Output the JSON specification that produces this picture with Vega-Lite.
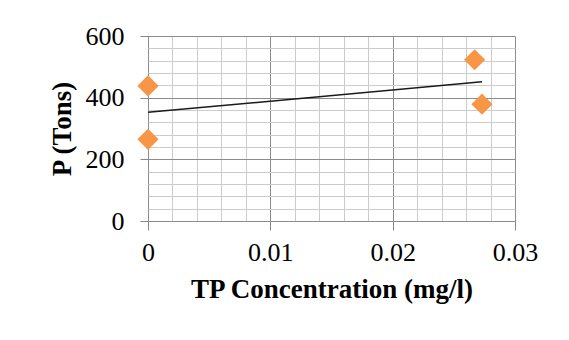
{
  "$schema": "https://vega.github.io/schema/vega-lite/v6.json",
  "autosize": {"type": "none"},
  "padding": {"left": 148, "top": 36, "right": 54, "bottom": 119},
  "width": 367,
  "height": 185,
  "background": "white",
  "config": {
    "view": {"stroke": null},
    "font": "Liberation Serif",
    "axis": {
      "labelFont": "Liberation Serif",
      "titleFont": "Liberation Serif",
      "labelColor": "black",
      "titleColor": "black",
      "labelFontSize": 26,
      "titleFontSize": 27,
      "titleFontWeight": "bold",
      "domain": false,
      "gridWidth": 1,
      "tickColor": "#868686",
      "tickWidth": 1,
      "tickCount": 100,
      "labelOverlap": false,
      "labelBound": false,
      "labelFlush": false
    }
  },
  "data": {
    "values": [
      {"tp": 0, "p": 438},
      {"tp": 0, "p": 265},
      {"tp": 0.0267, "p": 523},
      {"tp": 0.0273, "p": 379}
    ]
  },
  "layer": [
    {
      "mark": {"type": "point", "shape": "diamond", "filled": true, "size": 450, "color": "#F79646", "opacity": 1},
      "encoding": {
        "x": {
          "field": "tp", "type": "quantitative",
          "scale": {"domain": [0, 0.03], "nice": false, "zero": false},
          "axis": {
            "title": "TP Concentration (mg/l)",
            "values": [0, 0.002, 0.004, 0.006, 0.008, 0.01, 0.012, 0.014, 0.016, 0.018, 0.02, 0.022, 0.024, 0.026, 0.028, 0.03],
            "labelExpr": "abs(datum.value*100 - round(datum.value*100)) < 1e-6 ? format(datum.value, '.2~f') : ''",
            "gridColor": {"condition": {"test": "abs(datum.value*100 - round(datum.value*100)) < 1e-6", "value": "#8c8c8c"}, "value": "#cccccc"},
            "tickOpacity": {"condition": {"test": "abs(datum.value*100 - round(datum.value*100)) < 1e-6", "value": 1}, "value": 0},
            "tickSize": 9,
            "labelPadding": 9,
            "titlePadding": 11
          }
        },
        "y": {
          "field": "p", "type": "quantitative",
          "scale": {"domain": [0, 600], "nice": false},
          "axis": {
            "title": "P (Tons)",
            "values": [0, 40, 80, 120, 160, 200, 240, 280, 320, 360, 400, 440, 480, 520, 560, 600],
            "labelExpr": "datum.value % 200 == 0 ? datum.label : ''",
            "gridColor": {"condition": {"test": "datum.value % 200 == 0", "value": "#8c8c8c"}, "value": "#cccccc"},
            "tickOpacity": {"condition": {"test": "datum.value % 200 == 0", "value": 1}, "value": 0},
            "tickSize": 8,
            "labelPadding": 16,
            "titlePadding": 9
          }
        }
      }
    },
    {
      "transform": [{"regression": "p", "on": "tp"}],
      "mark": {"type": "line", "color": "#1a1a1a", "strokeWidth": 1.5},
      "encoding": {
        "x": {"field": "tp", "type": "quantitative"},
        "y": {"field": "p", "type": "quantitative"}
      }
    }
  ]
}
